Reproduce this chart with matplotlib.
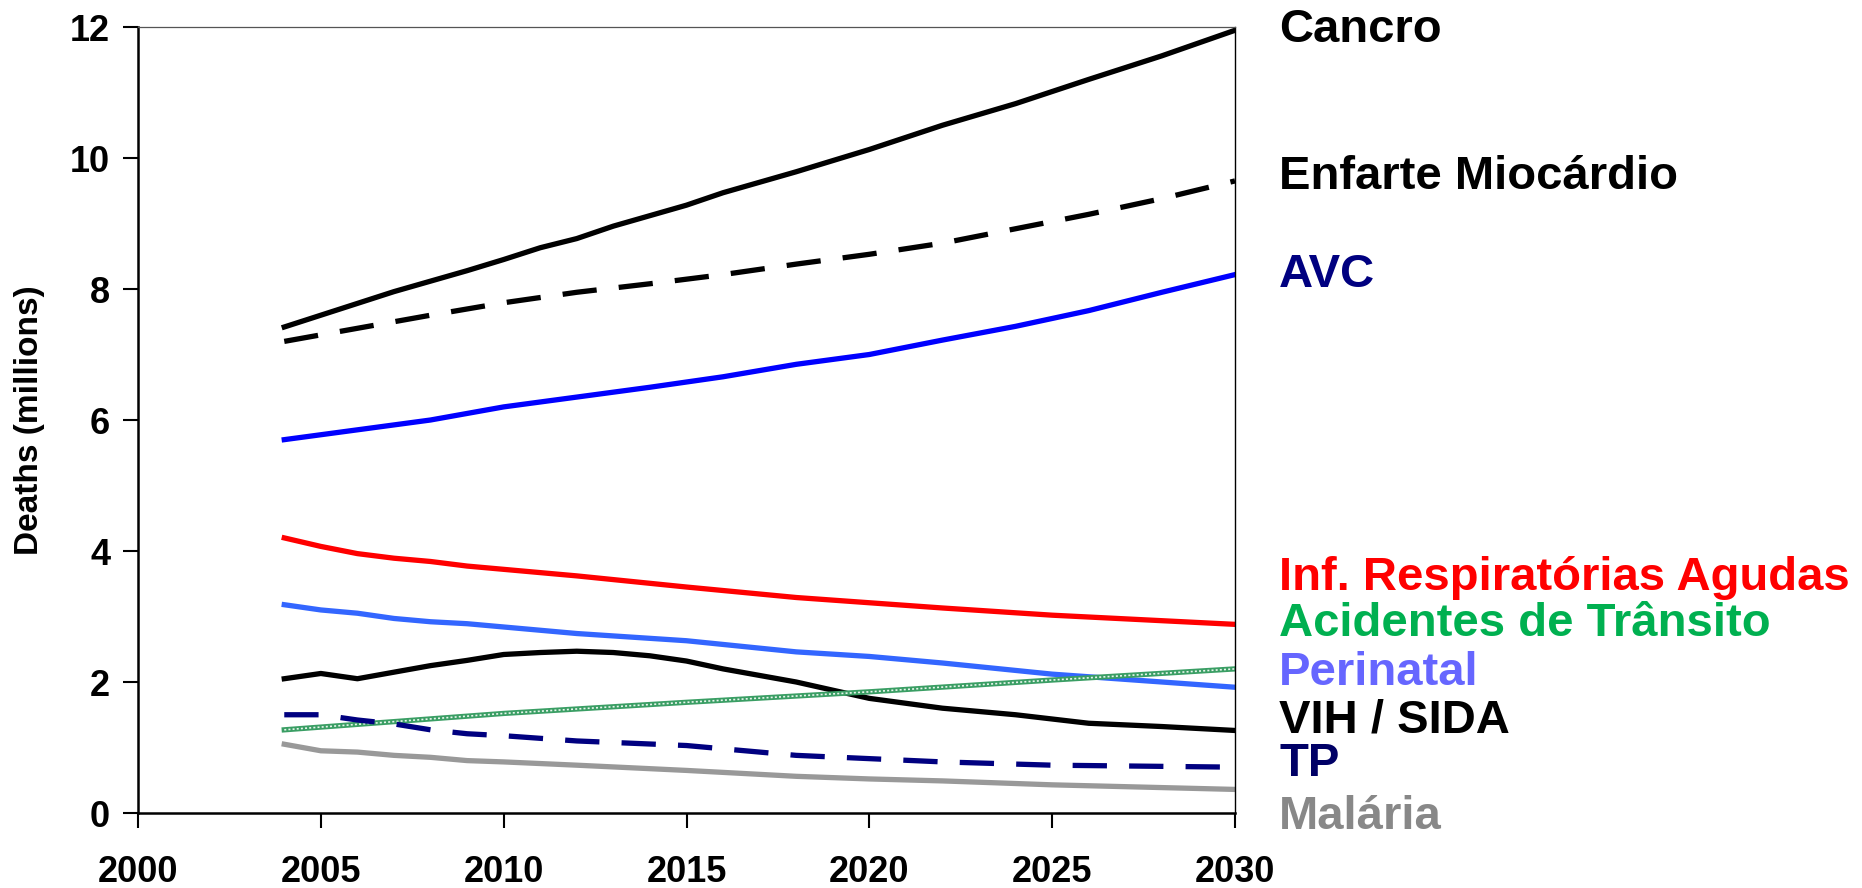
import matplotlib
matplotlib.use("Agg")
import matplotlib.pyplot as plt

years_a = [2004, 2005, 2006, 2007, 2008, 2009, 2010, 2011, 2012, 2013, 2014, 2015,
           2016, 2017, 2018, 2019, 2020, 2022, 2024, 2026, 2028, 2030]
cancro = [7.42, 7.60, 7.78, 7.96, 8.12, 8.28, 8.45, 8.63, 8.77, 8.96, 9.12, 9.28,
          9.47, 9.63, 9.79, 9.96, 10.13, 10.50, 10.83, 11.20, 11.56, 11.95]

years_b = [2004, 2006, 2008, 2010, 2012, 2014, 2016, 2018, 2020, 2022, 2024, 2026, 2028, 2030]
enfarte = [7.20, 7.40, 7.60, 7.79, 7.95, 8.08, 8.22, 8.38, 8.53, 8.70, 8.92, 9.14, 9.38, 9.65]
avc = [5.70, 5.85, 6.00, 6.20, 6.35, 6.50, 6.66, 6.85, 7.00, 7.22, 7.43, 7.67, 7.95, 8.22]

years_c = [2004, 2005, 2006, 2007, 2008, 2009, 2010, 2012, 2015, 2018, 2020, 2022, 2025, 2030]
resp = [4.20, 4.07, 3.96, 3.89, 3.84, 3.77, 3.72, 3.62, 3.45, 3.29, 3.21, 3.13, 3.02, 2.88]
perinatal = [3.18, 3.10, 3.05, 2.97, 2.92, 2.89, 2.84, 2.74, 2.63, 2.46, 2.39, 2.29, 2.12, 1.92]
tp = [1.50, 1.50, 1.42, 1.36, 1.27, 1.21, 1.18, 1.10, 1.03, 0.88, 0.83, 0.78, 0.73, 0.70]
malaria = [1.05, 0.95, 0.93, 0.88, 0.85, 0.80, 0.78, 0.73, 0.65, 0.56, 0.52, 0.49, 0.43, 0.36]

years_d = [2004, 2005, 2006, 2007, 2008, 2009, 2010, 2011, 2012, 2013, 2014, 2015, 2016,
           2018, 2020, 2022, 2024, 2026, 2028, 2030]
vih = [2.05, 2.13, 2.05, 2.15, 2.25, 2.33, 2.42, 2.45, 2.47, 2.45, 2.40, 2.32, 2.20,
       2.00, 1.75, 1.60, 1.50, 1.37, 1.32, 1.26]

years_e = [2004, 2010, 2015, 2020, 2025, 2030]
acidentes = [1.27, 1.52, 1.69, 1.85, 2.03, 2.20]

labels = ["Cancro", "Enfarte Miocárdio", "AVC", "Inf. Respiratórias Agudas",
          "Acidentes de Trânsito", "Perinatal", "VIH / SIDA", "TP", "Malária"]
label_colors = ["#000000", "#000000", "#000080", "#FF0000", "#00B050",
                "#6666FF", "#000000", "#000066", "#888888"]
label_y = [30, 177, 275, 578, 624, 673, 720, 764, 817]  # pixel rows

fig = plt.figure(figsize=(18.62, 8.88), dpi=100)
ax = fig.add_axes([138/1862, 1 - 813/888, (1235-138)/1862, (813-27)/888])

lw = 3.8
ax.plot(years_a, cancro, color="black", lw=lw)
ax.plot(years_b, enfarte, color="black", lw=lw, dashes=(6.5, 4.2))
ax.plot(years_b, avc, color="#0000FF", lw=lw)
ax.plot(years_c, resp, color="#FF0000", lw=lw)
ax.plot(years_c, perinatal, color="#3366FF", lw=lw)
ax.plot(years_d, vih, color="black", lw=lw)
ax.plot(years_e, acidentes, color="#3a9e64", lw=3.8)
ax.plot(years_e, acidentes, color="#e8f5ec", lw=1.2, dashes=(1.2, 1.3))
ax.plot(years_c, tp, color="#000080", lw=lw, dashes=(6.5, 4.2))
ax.plot(years_c, malaria, color="#999999", lw=lw)

ax.set_xlim(2000, 2030)
ax.set_ylim(0, 12)
ax.set_xticks(range(2000, 2031, 5))
ax.set_yticks(range(0, 13, 2))

for s in ["left", "bottom"]:
    ax.spines[s].set_linewidth(1.8)
ax.spines["top"].set_linewidth(0.9)
ax.spines["top"].set_color("#555555")
ax.spines["right"].set_linewidth(1.0)

ax.tick_params(axis="both", direction="out", length=11, width=1.5)
ax.tick_params(axis="y", pad=9)
ax.tick_params(axis="x", pad=19)
for t in ax.get_xticklabels() + ax.get_yticklabels():
    t.set_fontfamily("Liberation Sans")
    t.set_fontweight("bold")
    t.set_fontsize(26)

ax.set_ylabel("Deaths (millions)", fontsize=24, fontweight="bold",
              family="Liberation Sans", labelpad=18)

for txt, c, py in zip(labels, label_colors, label_y):
    fig.text(1279/1862, 1 - py/888, txt, color=c, fontsize=34, fontweight="bold",
             family="Liberation Sans", ha="left", va="center")

fig.savefig("out.png", dpi=100)
